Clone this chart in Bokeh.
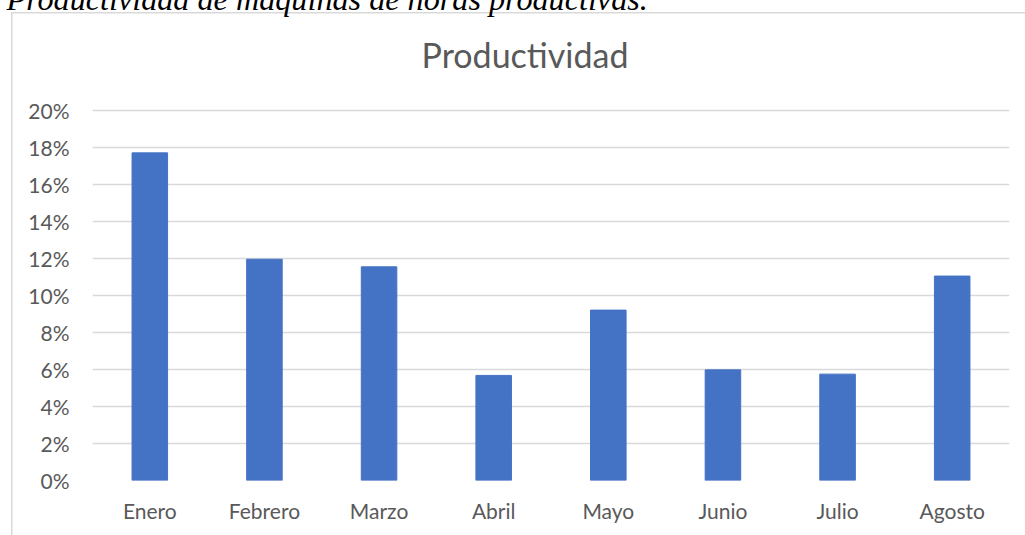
from bokeh.plotting import figure
from bokeh.models import (FactorRange, Range1d, NumeralTickFormatter, FixedTicker,
                          Title, Label)
from bokeh.embed import file_html
from bokeh.resources import INLINE

# Monthly productivity (share of productive machine hours)
months = ["Enero", "Febrero", "Marzo", "Abril", "Mayo", "Junio", "Julio", "Agosto"]
productividad = [0.1771, 0.1196, 0.1155, 0.0568, 0.0921, 0.0598, 0.0575, 0.1105]
y_ticks = [0.0, 0.02, 0.04, 0.06, 0.08, 0.10, 0.12, 0.14, 0.16, 0.18, 0.20]
y_top_tick = y_ticks[-1]

FONT = "Lato"
TEXT = "#595959"
GRID = "#d9d9d9"
BAR = "#4472c4"

# page geometry (pixels, from the page's top-left corner)
SHIFT = 24            # the canvas is lifted by this much so the caption runs off the top
PAGE_W, PAGE_H = 1025, 535
FRAME_LEFT, FRAME_RIGHT = 92, 1009
FRAME_TOP, FRAME_BOTTOM = 16, 480
TOP_TICK_PX = 110     # where the 20% gridline sits
BOX_LEFT, BOX_TOP = 11, 12
TITLE_CX, TITLE_CY = 524.5, 54

# the frame reaches above the 20% line so the chart title can live inside it
y_max = y_top_tick * (FRAME_BOTTOM - FRAME_TOP) / (FRAME_BOTTOM - TOP_TICK_PX)

p = figure(
    width=PAGE_W, height=PAGE_H + SHIFT,
    x_range=FactorRange(*months, range_padding=0),
    y_range=Range1d(0, y_max),
    output_backend="svg", toolbar_location=None,
    min_border_left=FRAME_LEFT, min_border_right=PAGE_W - FRAME_RIGHT,
    min_border_top=FRAME_TOP + SHIFT, min_border_bottom=PAGE_H - FRAME_BOTTOM,
)
p.outline_line_color = None
p.border_fill_color = None
p.background_fill_color = None

# white page with the light grey chart-area border (left and top edges)
p.styles = {
    "position": "relative",
    "top": f"-{SHIFT}px",
    "background-color": "white",
    "background-image": "linear-gradient(#d9d9d9, #d9d9d9), linear-gradient(#d9d9d9, #d9d9d9)",
    "background-size": "1.5px 700px, 1200px 1.5px",
    "background-position": f"{BOX_LEFT}px {BOX_TOP + SHIFT}px, {BOX_LEFT}px {BOX_TOP + SHIFT}px",
    "background-repeat": "no-repeat",
}

p.vbar(x=months, top=productividad, width=0.31, color=BAR)

# y axis: percentages, no axis line or ticks
p.yaxis.ticker = FixedTicker(ticks=y_ticks)
p.yaxis.formatter = NumeralTickFormatter(format="0%")
p.yaxis.axis_line_color = None
p.yaxis.major_tick_line_color = None
p.yaxis.minor_tick_line_color = None
p.yaxis.major_tick_out = 0
p.yaxis.major_label_standoff = 23
p.yaxis.major_label_text_font = FONT
p.yaxis.major_label_text_font_size = "21px"
p.yaxis.major_label_text_color = TEXT

# x axis: month names
p.xaxis.axis_line_color = None
p.xaxis.major_tick_line_color = None
p.xaxis.major_tick_out = 0
p.xaxis.major_label_standoff = 17
p.xaxis.major_label_text_font = FONT
p.xaxis.major_label_text_font_size = "21px"
p.xaxis.major_label_text_color = TEXT

p.xgrid.grid_line_color = None
p.ygrid.grid_line_color = GRID
p.ygrid.grid_line_width = 1.5

# chart title, placed inside the (tall) frame above the 20% line
p.add_layout(Label(x=TITLE_CX - FRAME_LEFT, y=FRAME_BOTTOM - TITLE_CY,
                   x_units="screen", y_units="screen",
                   text="Productividad", text_font=FONT, text_font_size="34px",
                   text_color=TEXT, text_align="center", text_baseline="middle"))

# figure caption above the chart box
p.title = None
p.add_layout(Title(text="Productividad de máquinas de horas productivas.",
                   align="left", offset=8 - FRAME_LEFT - 2,
                   text_font="Liberation Serif", text_font_size="32.2px",
                   text_font_style="italic", text_color="black", standoff=0), "above")

open("out.html", "w").write(file_html(p, INLINE))
